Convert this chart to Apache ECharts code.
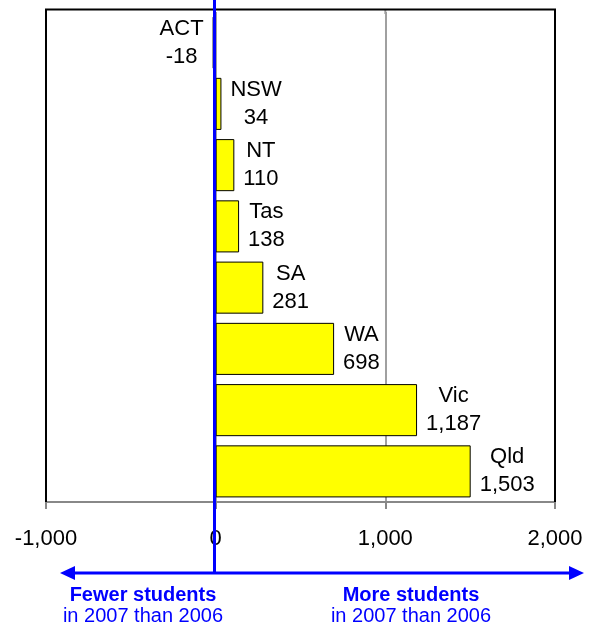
<!DOCTYPE html>
<html>
<head>
<meta charset="utf-8">
<script src="https://cdn.jsdelivr.net/npm/echarts@6/dist/echarts.min.js"></script>
<style>
  html, body { margin: 0; padding: 0; background: #fff; }
  #chart { width: 594px; height: 629px; }
</style>
</head>
<body>
<div id="chart"></div>
<script>
// Change in student numbers, 2007 vs 2006, by state/territory
const states = ['ACT', 'NSW', 'NT', 'Tas', 'SA', 'WA', 'Vic', 'Qld'];
const changes = [-18, 34, 110, 138, 281, 698, 1187, 1503];
const xTicks = [-1000, 0, 1000, 2000];

const FONT = '"Liberation Sans", Arial, sans-serif';
const BLUE = '#0000ff';

const fmt = v => v.toLocaleString('en-US');

const chart = echarts.init(document.getElementById('chart'), null, { renderer: 'canvas' });

const barData = changes.map(v => ({
  value: v,
  label: { position: v < 0 ? 'left' : 'right' }
}));

chart.setOption({
  animation: false,
  backgroundColor: '#fff',
  grid: { left: 46, right: 39, top: 12, bottom: 127, show: false },
  xAxis: {
    type: 'value',
    min: xTicks[0], max: xTicks[xTicks.length - 1], interval: 1000,
    axisLine: { show: true, onZero: false, lineStyle: { color: '#888', width: 2 } },
    axisTick: { show: true, length: 7, lineStyle: { color: '#888', width: 2 } },
    axisLabel: {
      show: true, margin: 26, color: '#000', fontSize: 22, fontFamily: FONT,
      showMinLabel: true, showMaxLabel: true, hideOverlap: false,
      formatter: v => fmt(v)
    },
    splitLine: { show: true, lineStyle: { color: '#a0a0a0', width: 2 } }
  },
  yAxis: {
    type: 'category',
    data: states,
    inverse: true,
    axisLine: { show: false },
    axisTick: { show: false },
    axisLabel: { show: false },
    splitLine: { show: false }
  },
  series: [{
    type: 'bar',
    data: barData,
    barCategoryGap: '15%',
    itemStyle: { color: '#ffff00', borderColor: '#000', borderWidth: 1 },
    label: {
      show: true,
      distance: 9,
      color: '#000',
      fontSize: 22,
      fontFamily: FONT,
      lineHeight: 28,
      formatter: p => '{n|' + states[p.dataIndex] + '}\n{n|' + fmt(p.value) + '}',
      rich: { n: { align: 'center', fontSize: 22, lineHeight: 28, fontFamily: FONT, color: '#000' } }
    }
  }]
});

// Plot frame (left, top, right), zero reference line and direction arrows
const xLeft = chart.convertToPixel({ xAxisIndex: 0 }, xTicks[0]);
const xRight = chart.convertToPixel({ xAxisIndex: 0 }, xTicks[xTicks.length - 1]);
const xGrid = chart.convertToPixel({ xAxisIndex: 0 }, xTicks[2]);
const zeroX = Math.round(chart.convertToPixel({ xAxisIndex: 0 }, 0)) - 1.5;
const frameTop = 9.5, frameBottom = 502;
const arrowY = 573;
const leftTip = 60, rightTip = 584, head = 15, half = 7;

chart.setOption({
  graphic: [
    { type: 'line', z: 80, shape: { x1: xGrid, y1: frameTop, x2: xGrid, y2: 14 },
      style: { stroke: '#a0a0a0', lineWidth: 2 } },
    { type: 'polyline', z: 90,
      shape: { points: [[xLeft, frameBottom], [xLeft, frameTop], [xRight, frameTop], [xRight, frameBottom]] },
      style: { stroke: '#000', lineWidth: 2, fill: null } },
    { type: 'line', z: 100, shape: { x1: zeroX, y1: 0, x2: zeroX, y2: arrowY },
      style: { stroke: BLUE, lineWidth: 3 } },
    { type: 'line', z: 100, shape: { x1: leftTip + head, y1: arrowY, x2: rightTip - head, y2: arrowY },
      style: { stroke: BLUE, lineWidth: 3 } },
    { type: 'polygon', z: 100,
      shape: { points: [[leftTip, arrowY], [leftTip + head, arrowY - half], [leftTip + head, arrowY + half]] },
      style: { fill: BLUE } },
    { type: 'polygon', z: 100,
      shape: { points: [[rightTip, arrowY], [rightTip - head, arrowY - half], [rightTip - head, arrowY + half]] },
      style: { fill: BLUE } },
    { type: 'text', z: 100, x: 143, y: 595,
      style: { text: 'Fewer students', fill: BLUE, font: 'bold 20px ' + FONT, align: 'center', verticalAlign: 'middle' } },
    { type: 'text', z: 100, x: 143, y: 616,
      style: { text: 'in 2007 than 2006', fill: BLUE, font: '20px ' + FONT, align: 'center', verticalAlign: 'middle' } },
    { type: 'text', z: 100, x: 411, y: 595,
      style: { text: 'More students', fill: BLUE, font: 'bold 20px ' + FONT, align: 'center', verticalAlign: 'middle' } },
    { type: 'text', z: 100, x: 411, y: 616,
      style: { text: 'in 2007 than 2006', fill: BLUE, font: '20px ' + FONT, align: 'center', verticalAlign: 'middle' } }
  ]
});
</script>
</body>
</html>
